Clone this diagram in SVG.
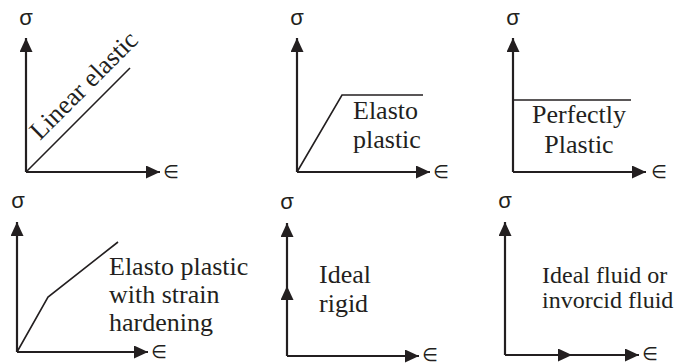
<svg xmlns="http://www.w3.org/2000/svg" width="677" height="364" viewBox="0 0 677 364">
<style>
.ax{stroke:#231f20;stroke-width:2.2;fill:none;marker-end:url(#ah)}
.cv{stroke:#231f20;stroke-width:1.6;fill:none}
.sym{font-family:"Liberation Sans","DejaVu Sans",sans-serif;font-size:22px;fill:#231f20;text-anchor:middle}
.eps{font-family:"Liberation Sans","DejaVu Sans",sans-serif;font-size:18px;fill:#231f20;text-anchor:middle}
.lbl{font-family:"Liberation Serif","Times New Roman",serif;font-size:26px;fill:#231f20}
</style>
<defs>
<marker id="ah" markerUnits="userSpaceOnUse" markerWidth="14" markerHeight="14" refX="14" refY="6.5" orient="auto">
<path d="M0,0 L14,6.5 L0,13 z" fill="#231f20"/>
</marker>
</defs>
<rect width="677" height="364" fill="#fff"/>
<g id="connectors">
<line class="ax" x1="26" y1="172" x2="26" y2="38"/>
<line class="ax" x1="26" y1="172" x2="160" y2="172"/>
<line class="cv" x1="26" y1="172" x2="130" y2="68"/>
<line class="ax" x1="297" y1="172" x2="297" y2="38"/>
<line class="ax" x1="297" y1="172" x2="430" y2="172"/>
<polyline class="cv" points="297,172 342,95 423,95"/>
<line class="ax" x1="513" y1="172" x2="513" y2="38"/>
<line class="ax" x1="513" y1="172" x2="646" y2="172"/>
<line class="cv" x1="513" y1="100" x2="631" y2="100"/>
<line class="ax" x1="17" y1="352" x2="17" y2="222"/>
<line class="ax" x1="17" y1="352" x2="148" y2="352"/>
<polyline class="cv" points="17,352 48,297 118,242"/>
<line class="ax" x1="287" y1="356" x2="287" y2="286"/>
<line class="ax" x1="287" y1="286" x2="287" y2="223"/>
<line class="ax" x1="287" y1="356" x2="419" y2="356"/>
<line class="ax" x1="505" y1="355" x2="505" y2="222"/>
<line class="ax" x1="505" y1="355" x2="572" y2="355"/>
<line class="ax" x1="572" y1="355" x2="639" y2="355"/>
</g>
<g id="linear-elastic">
<text class="sym" x="26" y="25">σ</text>
<text class="eps" x="171" y="178">∈</text>
<text class="lbl" x="40" y="141" transform="rotate(-45 40 141)">Linear elastic</text>
</g>
<g id="elasto-plastic">
<text class="sym" x="297" y="25">σ</text>
<text class="eps" x="441" y="178">∈</text>
<text class="lbl" x="353" y="119">Elasto</text>
<text class="lbl" x="353" y="148">plastic</text>
</g>
<g id="perfectly-plastic">
<text class="sym" x="513" y="25">σ</text>
<text class="eps" x="659" y="178">∈</text>
<text class="lbl" x="579" y="123" text-anchor="middle">Perfectly</text>
<text class="lbl" x="579" y="153" text-anchor="middle">Plastic</text>
</g>
<g id="strain-hardening">
<text class="sym" x="18" y="208">σ</text>
<text class="eps" x="159" y="358">∈</text>
<text class="lbl" x="109" y="275">Elasto plastic</text>
<text class="lbl" x="109" y="303">with strain</text>
<text class="lbl" x="109" y="331">hardening</text>
</g>
<g id="ideal-rigid">
<text class="sym" x="287" y="209">σ</text>
<text class="eps" x="430" y="361">∈</text>
<text class="lbl" x="319" y="283">Ideal</text>
<text class="lbl" x="319" y="312">rigid</text>
</g>
<g id="ideal-fluid">
<text class="sym" x="505" y="208">σ</text>
<text class="eps" x="650" y="360">∈</text>
<text class="lbl" x="542" y="283" style="font-size:24px">Ideal fluid or</text>
<text class="lbl" x="542" y="308" style="font-size:24px">invorcid fluid</text>
</g>
</svg>
